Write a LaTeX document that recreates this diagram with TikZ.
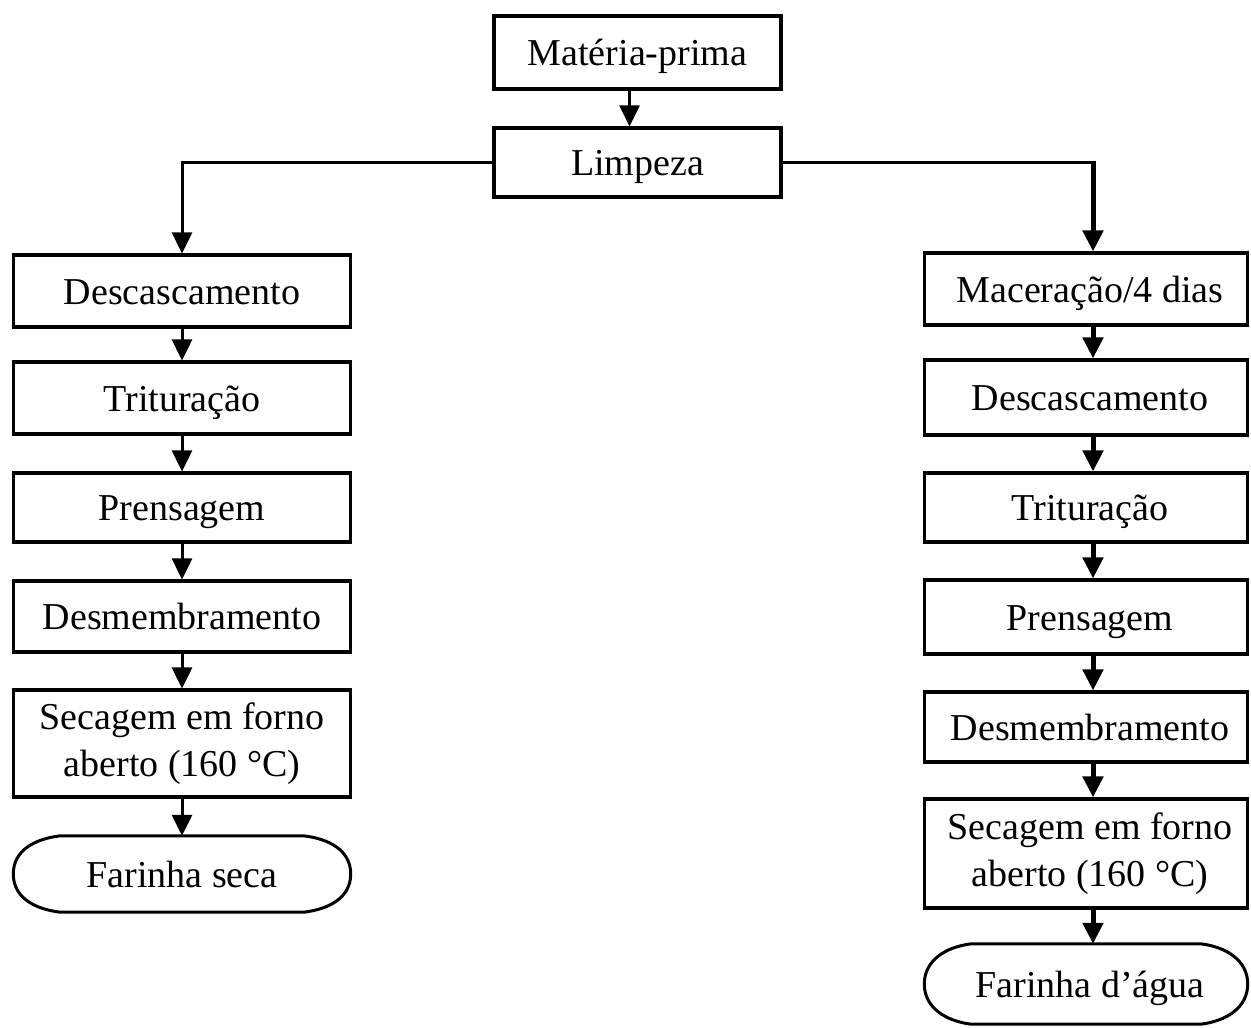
\documentclass[tikz,border=0pt]{standalone}
\usepackage{fontspec}
\setmainfont{Liberation Serif}
\usetikzlibrary{arrows.meta,calc}
\newcommand\termshape[1]{%
  \draw[line width=3pt] ([xshift=47pt]#1.north west) -- ([xshift=-47pt]#1.north east)
    .. controls ([xshift=-22pt,yshift=-3pt]#1.north east) and ([yshift=24pt]#1.east) .. (#1.east)
    .. controls ([yshift=-24pt]#1.east) and ([xshift=-22pt,yshift=3pt]#1.south east) .. ([xshift=-47pt]#1.south east)
    -- ([xshift=47pt]#1.south west)
    .. controls ([xshift=22pt,yshift=3pt]#1.south west) and ([yshift=-24pt]#1.west) .. (#1.west)
    .. controls ([yshift=24pt]#1.west) and ([xshift=22pt,yshift=-3pt]#1.north west) .. cycle;}
\begin{document}
\begin{tikzpicture}[x=1pt,y=-1pt,
  txt/.style={font=\fontsize{38}{47}\selectfont, align=center, inner sep=0pt},
  one/.style={text height=34pt, text depth=8pt},
  box/.style={txt, draw, line width=3.2pt, rectangle},
  term/.style={txt, one, draw=none},
  arr/.style={line width=3pt, -{Triangle[width=20pt,length=21pt]}},
  arrb/.style={line width=5pt, -{Triangle[width=20pt,length=21pt]}},
  lw/.style={minimum width=337pt},
  rw/.style={minimum width=323pt}
]
\useasboundingbox (0,0) rectangle (1251,1028);

% top
\node[box, one, minimum width=287pt, minimum height=73pt] (mp) at (637.5,52.5) {Matéria-prima};
\node[box, one, minimum width=287pt, minimum height=69pt] (lp) at (637.5,162.5) {Limpeza};

% left column
\node[box, one, lw, minimum height=72pt] (L1) at (182,291) {Descascamento};
\node[box, one, lw, minimum height=72pt] (L2) at (182,398) {Trituração};
\node[box, one, lw, minimum height=69pt] (L3) at (182,507.5) {Prensagem};
\node[box, one, lw, minimum height=71pt] (L4) at (182,616.5) {Desmembramento};
\node[box, lw, minimum height=107pt] (L5) at (182,743.5) {Secagem em forno\\aberto (160 °C)};
\node[term, minimum width=337pt, minimum height=76pt] (L6) at (182,874) {Farinha seca};
\termshape{L6}

% right column
\node[box, one, rw, minimum height=72pt] (R1) at (1086,289) {\hspace*{8pt}Maceração/4 dias};
\node[box, one, rw, minimum height=75pt] (R2) at (1086,397.5) {\hspace*{8pt}Descascamento};
\node[box, one, rw, minimum height=69pt] (R3) at (1086,507.5) {\hspace*{8pt}Trituração};
\node[box, one, rw, minimum height=74pt] (R4) at (1086,617) {\hspace*{8pt}Prensagem};
\node[box, one, rw, minimum height=70pt] (R5) at (1086,727) {\hspace*{8pt}Desmembramento};
\node[box, rw, minimum height=109pt] (R6) at (1086,853.5) {\hspace*{8pt}Secagem em forno\\\hspace*{8pt}aberto (160 °C)};
\node[term, minimum width=323pt, minimum height=80pt] (R7) at (1086,984) {\hspace*{8pt}Farinha d’água};
\termshape{R7}

% connectors
\draw[arr] ([xshift=-8pt]mp.south) -- ([xshift=-8pt]lp.north);
\draw[arr] (lp.west) -| (L1.north);
\coordinate (rt) at ([xshift=7pt]R1.north);
\coordinate (rk) at (lp.east -| rt);
\draw[line width=3pt] (lp.east) -- ([xshift=1.5pt]rk);
\draw[arrb] ([yshift=1.5pt]rk) -- (rt);

\foreach \a/\b in {L1/L2,L2/L3,L3/L4,L4/L5,L5/L6}
  \draw[arr] (\a.south) -- (\b.north);
\foreach \a/\b in {R1/R2,R2/R3,R3/R4,R4/R5,R5/R6,R6/R7}
  \draw[arrb] ([xshift=7pt]\a.south) -- ([xshift=7pt]\b.north);
\end{tikzpicture}
\end{document}
